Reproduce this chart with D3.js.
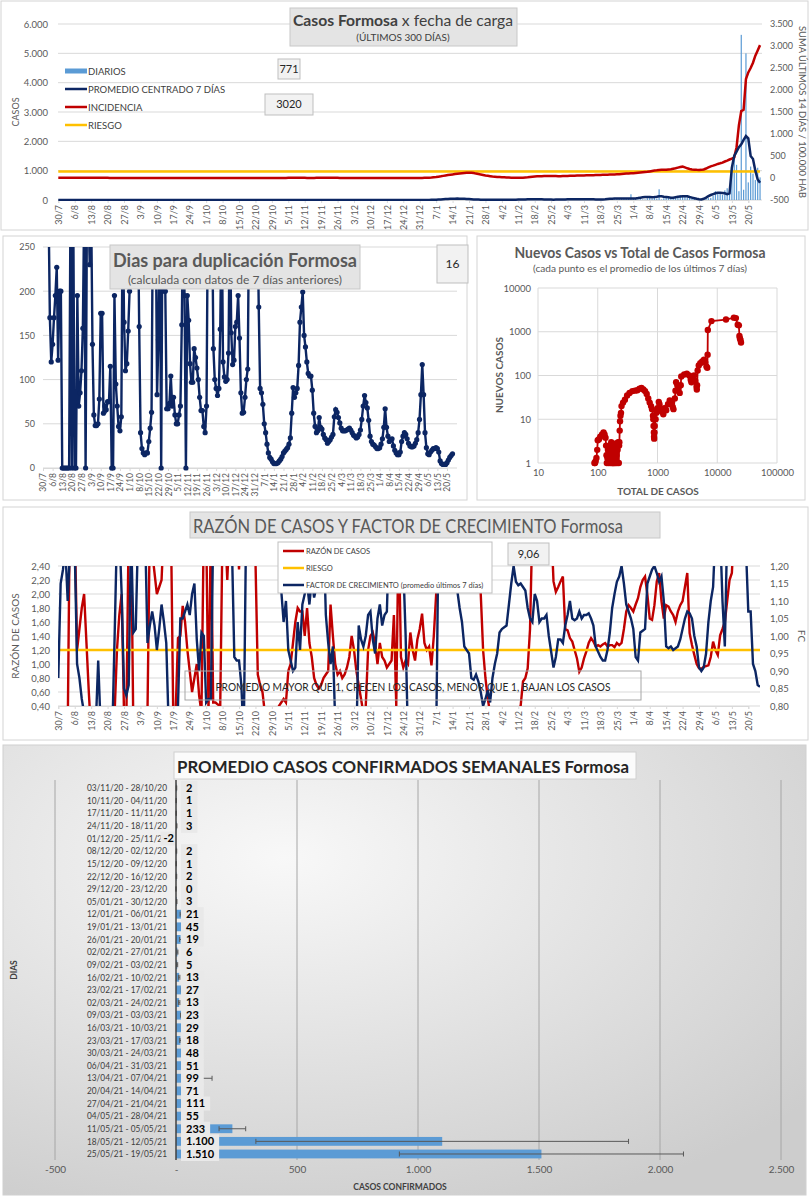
<!DOCTYPE html>
<html>
<head>
<meta charset="utf-8">
<script src="https://cdn.jsdelivr.net/npm/d3@7"></script>
<style>
body { margin: 0; background: #fff; }
svg { display: block; }
</style>
</head>
<body>
<script>
// etiquetas semanales del eje x (cada 7 dias desde el 30/7)
const fechas = ["30/7","6/8","13/8","20/8","27/8","3/9","10/9","17/9","24/9","1/10","8/10","15/10","22/10","29/10",
  "5/11","12/11","19/11","26/11","3/12","10/12","17/12","24/12","31/12","7/1","14/1","21/1","28/1","4/2","11/2",
  "18/2","25/2","4/3","11/3","18/3","25/3","1/4","8/4","15/4","22/4","29/4","6/5","13/5","20/5"];

// casos diarios por fecha de carga (300 dias)
const diarios = [
  0,1,0,0,2,3,5,4,1,0, 3,2,0,0,1,0,0,0,1,0, 0,1,0,0,2,0,0,1,0,0, 1,0,2,0,0,1,0,0,0,1,
  0,0,2,1,0,0,0,3,0,1, 0,0,0,1,0,2,0,0,1,0, 0,0,1,0,0,0,2,0,0,0, 1,0,0,0,0,1,0,0,3,1,
  0,0,1,2,0,0,0,1,0,0, 2,3,1,2,4,1,2,0,1,2, 1,0,1,1,2,0,1,1,0,2, 3,5,2,3,4,1,3,0,0,1,
  0,0,0,0,2,3,1,2,3,4, 1,0,2,1,0,0,2,1,3,2, 2,1,4,3,2,0,1,0,0,0, 0,0,0,1,2,3,4,5,3,3,
  8,12,15,20,25,30,37,40,48,55, 45,50,40,37,30,25,20,18,15,12, 13,10,8,6,5,4,5,4,3,4,
  6,5,7,4,6,8,10,12,15,14, 16,16,20,25,30,35,28,26,25,18, 15,12,10,14,11,11,15,20,25,22,
  28,26,25,30,35,25,28,32,27,26, 20,15,18,16,22,17,18,30,40,55, 60,50,45,56,195,40,35,20,30,20,
  17,60,70,50,80,50,365,18,60,75, 80,70,65,75,72,170,150,120,90,100, 80,67,50,40,45,60,55,65,70,150,
  300,200,250,180,330,400,300,1100,1500,1200, 300,5630,350,5000,600,1140,900,680,1100,771];

// promedio centrado 7 dias
const promedio7 = [
  2,2,2,2,2,3,3,3,2,2, 2,1,1,1,1,1,0,0,0,0, 0,0,0,1,1,1,1,1,1,1, 1,1,1,1,0,0,0,0,0,0,
  0,1,1,1,1,1,1,1,0,0, 0,0,0,0,1,1,1,1,0,0, 0,0,0,0,0,0,0,0,0,0, 0,0,0,0,0,0,0,1,1,1,
  1,1,1,1,1,0,0,0,0,0, 1,1,2,2,2,2,2,2,1,1, 1,1,1,1,1,1,1,1,1,1, 2,2,3,3,3,2,2,2,1,1,
  0,0,0,0,1,1,2,2,2,2, 2,2,1,1,1,1,1,2,2,2, 2,2,2,1,1,1,0,0,0,0, 0,0,1,1,2,2,3,3,4,6,
  9,12,16,20,25,30,35,40,44,46, 47,46,44,40,35,30,25,20,16,13, 10,8,7,6,5,5,5,5,5,5,
  5,6,7,8,10,12,14,16,18,21, 24,27,28,28,27,25,22,19,16,14, 13,12,13,14,16,18,20,22,23,24,
  25,26,27,28,29,28,26,24,22,20, 19,18,20,25,32,40,45,48,50,51, 50,48,50,52,50,51,55,65,80,95,
  100,105,100,95,100,110,130,130,110,100, 90,80,80,95,110,120,130,130,125,100, 80,60,40,25,20,40,80,130,170,200,
  230,250,250,240,230,200,230,1100,1500,1650, 1800,1900,2050,2180,2100,1500,1400,1000,700,590];

// incidencia: suma ultimos 14 dias / 100.000 hab
const incidencia = [
  5,5,5,4,4,5,6,6,7,7, 7,7,6,6,5,5,4,4,3,3, 3,3,2,2,2,2,2,2,2,2, 2,2,2,2,2,2,1,1,1,1,
  1,1,1,1,1,2,2,2,2,2, 2,1,1,1,1,1,1,1,1,1, 1,1,1,1,1,1,1,1,1,1, 1,1,1,1,1,1,1,1,1,1,
  1,1,1,1,1,1,1,1,1,1, 1,1,2,2,2,2,2,2,3,3, 3,3,3,3,3,3,2,2,2,2, 3,3,3,4,4,4,4,4,3,3,
  2,2,2,2,2,2,2,2,2,2, 2,2,2,2,2,2,2,2,2,2, 2,2,2,2,1,1,1,1,1,1, 1,1,1,1,2,2,3,4,6,10,
  16,22,30,38,48,58,68,75,82,90, 98,104,110,115,118,120,118,112,100,90, 80,70,58,50,42,35,30,25,22,18,
  15,12,10,8,7,6,5,5,6,10, 15,22,30,35,38,40,42,44,45,46, 46,45,44,42,42,44,46,48,50,50,
  52,54,55,57,58,60,60,62,64,66, 68,70,72,74,76,78,80,82,84,86, 90,95,100,104,107,110,115,120,125,130,
  135,140,150,160,170,175,182,185,188,190, 195,200,210,220,235,250,258,240,220,205, 195,190,185,182,185,195,215,240,265,280,
  300,320,334,350,375,395,420,440,470,700, 1200,1520,1550,2250,2400,2500,2620,2780,2900,3020];
const riesgoIncidencia = 150;

// dias para duplicacion (null = sin dato)
const duplicacion = [
  null,null,null,null,300,170,120,140,170,195, 227,122,200,200,0,0,0,0,0,0, 300,0,300,0,0,195,70,85,110,158,
  300,0,300,300,230,300,140,60,48,48, 50,78,175,175,62,70,66,75,75,115, 0,0,195,95,70,47,42,58,300,165,
  110,118,155,200,300,300,300,300,300,300, 160,40,22,17,15,17,17,30,45,63, 300,300,300,83,145,300,0,300,200,200,
  67,67,73,104,70,80,60,50,50,60, 70,162,300,195,0,195,167,118,97,97, 135,125,113,100,80,65,65,47,40,70,
  300,300,300,300,135,100,90,82,90,157, 300,120,103,98,100,130,300,153,117,122, 160,165,195,147,85,62,63,80,100,112,
  300,300,300,300,300,300,300,182,90,85, 72,50,40,27,17,12,10,7,5,5, 5,6,8,10,13,17,19,21,23,27,
  34,62,91,80,85,90,116,165,182,199, 150,137,120,107,104,104,88,62,47,40, 42,57,46,44,38,34,32,28,30,32,
  35,38,58,66,63,57,51,45,42,42, 42,43,44,45,43,40,37,36,34,35, 38,43,55,70,82,74,68,54,36,30,
  27,26,24,22,22,23,27,33,46,67, 46,36,30,32,33,25,20,17,15,15, 18,30,36,40,38,33,28,25,24,24,
  25,28,32,40,55,83,117,83,40,23, 16,15,18,20,22,22,23,22,18,8, 5,4,4,4,6,9,12,14,16,null];

// nuevos casos vs total (promedio 7 dias)
const totalCasos = [88,90,92,95,98,100,105,110,118,125,130,135,138,140,142,145,148,150,152,155,158,160,162,165,168,170,172,175,178,180,
  183,185,188,190,195,198,200,205,210,215,220,225,228,230,233,236,240,245,250,265,285,310,340,380,420,460,500,540,580,620,
  660,700,740,780,810,840,850,860,870,875,880,890,900,930,960,1000,1050,1080,1120,1180,1250,1300,1400,1500,1600,1700,1800,1850,1950,2000,
  2050,2150,2250,2350,2450,2500,2800,3100,3400,3600,3700,3900,4100,4300,4500,4550,4600,4700,4900,5200,5600,6000,6300,6600,6800,6900,6950,8000,14000,19000,
  20500,22000,23000,23500,24000,24500,25000];
const nuevosCasos = [1,1,1.1,1.3,2,3.3,3.5,4,4.5,5,4.5,3.8,2.5,1.5,1,1.3,2,1.5,1,1.7,2.5,1.2,1,2,3,1.5,1,2.2,1,1.8,
  1,2.5,1.2,1,2,1,2.8,1.5,1,2,3,1,2.5,3,5.5,9,12,14,20,24,28,35,40,44,45,46,50,52,48,44,
  38,30,24,20,17,12,10,7,5,4,3.6,5,7,10,14,18,25,22,17,15,13,18,16,22,27,25,19,17,30,45,
  70,60,50,40,60,95,105,110,100,80,70,90,100,75,55,48,60,130,170,190,210,230,200,160,150,300,1100,1750,1900,2100,
  2050,1450,1400,800,700,650,570];

// razon de casos (eje izq.) y factor de crecimiento (eje der.)
const razonCasos = [
  0,0,0,0,0,3.5,4,3,1.2,1.5, 1.8,2.0,1.3,0.6,0,0,0,0,0,0, 0,0,0,0,0.3,1.2,1.7,2.0,0.3,0.2, 3,3,0,0,0,0,0,0,0.3,3,
  2.6,2.3,2.0,2.1,2.2,3,3,3,3,0.2, 0.3,1.37,1.4,1.83,1.6,1.2,0.9,0.6,0.8,1.0, 0.55,0.3,3,3,0.3,3,0.45,0.45,0.42,0.4,
  3,3,2.2,3,3,3,3,2.35,3,3, 3,3,3,3,2.5,0.85,0.7,0.6,0.3,0.2, 0.2,0.2,0.2,0.3,0.4,0.45,0.5,0.45,0.9,1.0,
  1.3,1.6,1.8,1.75,1.75,1.4,1.8,1.3,1.1,0.8, 0.7,0.65,0.7,0.8,0.85,0.9,1.85,1.4,1.0,0.85, 0.9,0.8,0.85,0.95,1.1,1.4,1.2,0.9,0.7,0.5,
  0.3,0.4,1.2,1.4,1.45,1.3,1.0,1.3,1.1,1.05, 0.95,1.0,1.05,1.7,0.4,3,1.1,0.95,1.05,1.0, 1.45,1.2,1.05,1.35,1.5,1.72,1.3,1.2,1.25,0.98,
  1.4,2.0,3,3,3,3,3,3,3,3, 3,3,3,3,3,3,3,3,3,3, 2.0,1.2,0.8,0.5,0.3,0.2,0.2,0.2,0.2,0.2,
  0.2,0.2,0.2,0.2,0.2,0.2,0.2,0.4,0.75,0.8, 0.94,1.5,3,3,3,3,3,3,3,3, 3,2.18,2.03,2.1,2.18,2.25,1.5,1.48,1.37,1.32,
  1.2,1.08,0.89,0.95,1.08,1.18,1.3,1.37,1.32,1.25, 1.27,1.25,1.28,1.3,1.25,1.27,1.27,1.24,1.3,1.27, 1.3,1.5,1.75,1.84,1.8,1.75,1.85,1.94,2.1,2.2,
  2.25,1.99,1.65,1.63,1.84,2.18,2.3,1.9,1.65,1.84, 1.82,1.75,1.7,1.6,1.75,1.84,1.9,2.1,2.3,1.44, 1.27,1.13,1.0,0.94,0.93,0.96,0.97,0.98,1.1,1.32,
  1.2,1.13,1.41,1.5,1.6,1.9,2.2,2.3,3,3.5, 4,4.5,5,5.5,6,7,7.5,8,8.5,9.06];
const factorCrec = [
  0.88,1.15,1.19,1.25,1.1,1.25,1.3,1.25,0.92,0.88, 0.82,0.78,0.75,0.7,0.7,0.7,0.75,0.93,0.75,0.7, 0.7,0.7,0.7,0.72,1.0,1.3,1.3,1.12,0.85,0.83,
  0.86,1.3,1.01,1.02,1.3,1.3,1.3,1.3,0.98,1.03, 1.07,1.03,0.96,1.02,1.09,1.04,0.98,0.75,0.7,0.7, 0.72,0.8,1.05,1.05,1.07,1.09,1.06,1.12,1.15,0.99,
  0.9,1.01,1.0,0.81,0.82,0.82,1.3,1.3,1.3,1.3, 1.3,1.3,1.3,1.3,1.25,0.94,0.93,0.93,0.86,0.7, 1.3,1.3,1.3,1.3,1.3,1.3,1.3,1.3,1.3,1.3,
  1.3,1.3,1.3,1.3,1.25,1.13,1.04,1.1,0.96,0.93, 0.9,0.91,1.04,0.96,1.09,1.12,1.15,1.09,1.16,1.11, 1.14,1.18,1.3,1.3,1.06,0.98,0.92,0.97,0.75,0.7,
  0.7,0.7,0.7,0.7,0.7,0.7,0.7,0.7,1.03,0.99, 0.97,1.0,1.06,1.07,0.99,0.95,1.05,1.09,1.03,1.06, 1.07,1.3,1.3,1.3,1.3,1.3,1.3,1.2,1.0,0.7,
  0.7,0.7,0.7,0.7,0.7,0.7,0.7,0.7,0.7,0.7, 0.7,0.7,1.3,1.3,1.3,1.3,1.3,1.3,1.3,1.25, 1.13,1.08,1.04,0.97,0.96,0.95,0.88,0.875,0.89,0.87,
  0.84,0.8,0.82,0.845,0.81,0.88,0.92,0.95,1.01,1.02, 1.025,1.03,1.09,1.15,1.2,1.155,1.145,1.15,1.14,1.13, 1.08,1.05,1.04,1.12,1.1,1.04,1.05,1.05,1.06,1.0,
  0.955,0.91,0.94,0.99,0.99,0.98,1.03,1.06,1.1,1.05, 1.045,1.05,1.07,1.05,1.06,1.06,1.065,1.05,1.03,0.97, 0.955,0.94,0.93,0.93,0.96,1.01,1.08,1.12,1.155,1.17,
  1.2,1.15,1.09,1.07,1.05,1.02,0.94,0.93,1.01,1.015, 1.02,1.15,1.17,1.19,1.2,1.18,1.155,1.17,1.1,0.97, 0.965,0.97,0.96,0.965,0.97,0.99,1.02,1.05,1.07,1.065,
  1.05,1.0,0.97,0.91,0.9,0.91,0.95,1.04,1.1,1.14, 1.3,1.3,1.3,1.1,0.97,1.3,1.3,1.3,1.3,1.3, 1.3,1.3,1.3,1.25,1.07,1.07,0.92,0.9,0.86,0.855];
const riesgoRazon = 1.2;

// promedio semanal de casos confirmados
const semanas = ["03/11/20 - 28/10/20","10/11/20 - 04/11/20","17/11/20 - 11/11/20","24/11/20 - 18/11/20","01/12/20 - 25/11/20",
  "08/12/20 - 02/12/20","15/12/20 - 09/12/20","22/12/20 - 16/12/20","29/12/20 - 23/12/20","05/01/21 - 30/12/20",
  "12/01/21 - 06/01/21","19/01/21 - 13/01/21","26/01/21 - 20/01/21","02/02/21 - 27/01/21","09/02/21 - 03/02/21",
  "16/02/21 - 10/02/21","23/02/21 - 17/02/21","02/03/21 - 24/02/21","09/03/21 - 03/03/21","16/03/21 - 10/03/21",
  "23/03/21 - 17/03/21","30/03/21 - 24/03/21","06/04/21 - 31/03/21","13/04/21 - 07/04/21","20/04/21 - 14/04/21",
  "27/04/21 - 21/04/21","04/05/21 - 28/04/21","11/05/21 - 05/05/21","18/05/21 - 12/05/21","25/05/21 - 19/05/21"];
const promSemanal = [2,1,1,3,-2,2,1,2,0,3,21,45,19,6,5,13,27,13,23,29,18,48,51,99,71,111,55,233,1100,1510];
const errSemanal = [1,1,1,1,1,1,1,1,0,1,4,6,4,2,2,3,5,3,4,5,3,6,6,50,8,5,6,55,770,587];

const FONT = "Lato, 'DejaVu Sans', sans-serif";
const NAVY = "#0c2663", RED = "#c00000", YEL = "#ffc000", BLUE = "#5b9bd5";
const GRID = "#d9d9d9", TXT = "#595959";

const es = d3.formatLocale({decimal: ",", thousands: ".", grouping: [3], currency: ["$", ""], minus: "-"});
const fMil = es.format(",");
const f2 = es.format(",.2f");

const svg = d3.select("body").append("svg")
  .attr("width", 812).attr("height", 1200)
  .style("font-family", FONT);
const defs = svg.append("defs");

function marco(x, y, w, h) {
  svg.append("rect").attr("x", x).attr("y", y).attr("width", w).attr("height", h)
    .attr("fill", "#fff").attr("stroke", "#d4d4d4");
}
function recorte(id, x, y, w, h) {
  defs.append("clipPath").attr("id", id).append("rect")
    .attr("x", x).attr("y", y).attr("width", w).attr("height", h);
}
function caja(x, y, w, h, txt, size, fill) {
  svg.append("rect").attr("x", x).attr("y", y).attr("width", w).attr("height", h)
    .attr("fill", fill || "#f2f2f2").attr("stroke", "#bfbfbf");
  if (txt) svg.append("text").attr("x", x + w / 2).attr("y", y + h / 2).attr("dy", "0.35em")
    .attr("text-anchor", "middle").attr("font-size", size).attr("fill", "#262626").text(txt);
}
function texto(x, y, t, size, opts) {
  const o = opts || {};
  const el = svg.append("text").attr("x", x).attr("y", y).attr("font-size", size)
    .attr("fill", o.fill || TXT).attr("text-anchor", o.anchor || "start")
    .attr("font-weight", o.bold ? "bold" : null).text(t);
  if (o.rot) el.attr("transform", `rotate(${o.rot},${x},${y})`);
  if (o.len) el.attr("textLength", o.len).attr("lengthAdjust", "spacingAndGlyphs");
  return el;
}
function ejeFechas(scale, y, size) {
  const g = svg.append("g").attr("transform", `translate(0,${y})`)
    .call(d3.axisBottom(scale).tickValues(fechas.map((f, i) => i * 7))
      .tickFormat((d, i) => fechas[i]).tickSize(3));
  g.attr("font-family", FONT).attr("font-size", size);
  g.select(".domain").attr("stroke", GRID);
  g.selectAll(".tick line").attr("stroke", GRID);
  g.selectAll("text").attr("transform", "rotate(-90)").attr("text-anchor", "end")
    .attr("x", -5).attr("y", 0).attr("dy", "0.35em").attr("fill", TXT);
}
function ejeY(scale, x, vals, fmt, side, size) {
  const ax = side === "left" ? d3.axisLeft(scale) : d3.axisRight(scale);
  const g = svg.append("g").attr("transform", `translate(${x},0)`)
    .call(ax.tickValues(vals).tickFormat(fmt).tickSize(0).tickPadding(0));
  g.attr("font-family", FONT).attr("font-size", size);
  g.select(".domain").remove();
  g.selectAll("text").attr("fill", TXT);
}
function rejilla(scale, vals, x0, x1) {
  svg.append("g").selectAll("line").data(vals).join("line")
    .attr("x1", x0).attr("x2", x1).attr("y1", d => scale(d)).attr("y2", d => scale(d))
    .attr("stroke", GRID).attr("stroke-width", 1);
}

// ---------- panel 1: casos x fecha de carga ----------
marco(1, 1, 807, 229);
const x1 = d3.scaleLinear().domain([0, 294]).range([58.3, 748.3]);
const y1 = d3.scaleLinear().domain([0, 6000]).range([200, 24]);
const y1r = d3.scaleLinear().domain([-500, 3500]).range([200, 24]);
recorte("c1", 57, 20, 706, 181);
rejilla(y1, d3.range(0, 6001, 1000), 58, 762);
ejeY(y1, 48, d3.range(0, 6001, 1000), fMil, "left", 9.5);
ejeY(y1r, 770, d3.range(-500, 3501, 500), fMil, "right", 9);
texto(19, 112, "CASOS", 9, {anchor: "middle", rot: -90});
texto(799, 112, "SUMA  ÚLTIMOS 14 DÍAS / 100.000 HAB", 9.5, {anchor: "middle", rot: 90, len: 172});
ejeFechas(x1, 200, 9);

const p1 = svg.append("g").attr("clip-path", "url(#c1)");
p1.selectAll("rect").data(diarios).join("rect")
  .attr("x", (d, i) => x1(i) - 0.6).attr("width", 1.2)
  .attr("y", d => y1(Math.max(d, 0))).attr("height", d => y1(0) - y1(Math.max(d, 0)))
  .attr("fill", BLUE);
p1.append("path").datum([0, 299])
  .attr("d", d3.line().x(d => x1(d)).y(() => y1r(riesgoIncidencia)))
  .attr("stroke", YEL).attr("stroke-width", 2.5).attr("fill", "none");
p1.append("path").datum(incidencia)
  .attr("d", d3.line().x((d, i) => x1(i)).y(d => y1r(d)))
  .attr("stroke", RED).attr("stroke-width", 2.5).attr("fill", "none");
p1.append("path").datum(promedio7)
  .attr("d", d3.line().x((d, i) => x1(i)).y(d => y1(d)))
  .attr("stroke", NAVY).attr("stroke-width", 2.5).attr("fill", "none");

// titulo
svg.append("rect").attr("x", 290).attr("y", 8).attr("width", 227).attr("height", 38)
  .attr("fill", "#e4e4e4").attr("stroke", "#c8c8c8");
const t1 = svg.append("text").attr("x", 403).attr("y", 26).attr("text-anchor", "middle")
  .attr("font-size", 16).attr("fill", "#404040").attr("textLength", 220).attr("lengthAdjust", "spacingAndGlyphs");
t1.append("tspan").attr("font-weight", "bold").text("Casos  Formosa");
t1.append("tspan").text(" x fecha de carga");
texto(403, 41, "(ÚLTIMOS 300 DÍAS)", 10, {anchor: "middle", fill: "#404040"});

// leyenda
const ley1 = [
  {t: "DIARIOS", c: BLUE, w: 5},
  {t: "PROMEDIO CENTRADO 7 DÍAS", c: NAVY, w: 2.5},
  {t: "INCIDENCIA", c: RED, w: 2.5},
  {t: "RIESGO", c: YEL, w: 2.5}
];
ley1.forEach((l, i) => {
  const y = 71 + i * 18;
  svg.append("line").attr("x1", 65).attr("x2", 87).attr("y1", y).attr("y2", y)
    .attr("stroke", l.c).attr("stroke-width", l.w);
  texto(88, y + 3.5, l.t, 9.5, {fill: "#404040"});
});
caja(278, 59, 22, 20, "771", 11);
caja(265, 94, 48, 21, "3020", 11);

// ---------- panel 2: dias para duplicacion ----------
marco(3, 236, 464, 264);
const x2 = d3.scaleLinear().domain([0, 294]).range([43, 447]);
const y2 = d3.scaleLinear().domain([0, 250]).range([468, 247]);
recorte("c2", 38, 247, 422, 226);
rejilla(y2, d3.range(0, 251, 50), 43, 457);
ejeY(y2, 35, d3.range(0, 251, 50), d3.format("d"), "left", 9);
ejeFechas(x2, 468, 8.5);
const p2 = svg.append("g").attr("clip-path", "url(#c2)");
p2.append("path").datum(duplicacion)
  .attr("d", d3.line().defined(d => d !== null).x((d, i) => x2(i)).y(d => y2(d)))
  .attr("stroke", NAVY).attr("stroke-width", 2.4).attr("fill", "none");
p2.selectAll("circle").data(duplicacion.map((v, i) => [i, v]).filter(d => d[1] !== null && d[1] <= 250))
  .join("circle").attr("cx", d => x2(d[0])).attr("cy", d => y2(d[1])).attr("r", 2.6).attr("fill", NAVY);
svg.append("rect").attr("x", 110).attr("y", 245).attr("width", 250).attr("height", 44)
  .attr("fill", "#e4e4e4").attr("stroke", "#c8c8c8");
texto(235, 267, "Dias para duplicación Formosa", 18.5, {anchor: "middle", bold: true, len: 244});
texto(235, 284, "(calculada con datos de 7 días anteriores)", 12, {anchor: "middle", len: 214});
caja(437, 245, 31, 38, "16", 12);

// ---------- panel 3: nuevos vs total ----------
marco(477, 236, 328, 264);
const x3 = d3.scaleLog().domain([10, 100000]).range([538, 777]);
const y3 = d3.scaleLog().domain([1, 10000]).range([463, 288]);
const dec = [1, 10, 100, 1000, 10000], decX = [10, 100, 1000, 10000, 100000];
rejilla(y3, dec, 538, 777);
svg.append("g").selectAll("line").data(decX).join("line")
  .attr("x1", d => x3(d)).attr("x2", d => x3(d)).attr("y1", 288).attr("y2", 463)
  .attr("stroke", GRID);
ejeY(y3, 531, dec, d3.format("d"), "left", 9.5);
const gx3 = svg.append("g").attr("transform", "translate(0,469)")
  .call(d3.axisBottom(x3).tickValues(decX).tickFormat(d3.format("d")).tickSize(0).tickPadding(0));
gx3.attr("font-family", FONT).attr("font-size", 9.5);
gx3.select(".domain").remove();
gx3.selectAll("text").attr("fill", TXT);
texto(640, 258, "Nuevos Casos vs Total de Casos Formosa", 14.5, {anchor: "middle", bold: true, len: 251});
texto(640, 272, "(cada punto es el promedio de los últimos 7 días)", 9.5, {anchor: "middle", len: 214});
texto(503, 375, "NUEVOS  CASOS", 10, {anchor: "middle", bold: true, rot: -90});
texto(658, 495, "TOTAL DE CASOS", 10, {anchor: "middle", bold: true});
const pts = totalCasos.map((t, i) => [t, nuevosCasos[i]]);
svg.append("path").datum(pts)
  .attr("d", d3.line().x(d => x3(d[0])).y(d => y3(d[1])))
  .attr("stroke", RED).attr("stroke-width", 1.8).attr("fill", "none");
svg.append("g").selectAll("circle").data(pts).join("circle")
  .attr("cx", d => x3(d[0])).attr("cy", d => y3(d[1])).attr("r", 3.2).attr("fill", RED);

// ---------- panel 4: razon de casos y factor de crecimiento ----------
marco(3, 507, 805, 233);
const y4 = d3.scaleLinear().domain([0.4, 2.4]).range([706, 566]);
const y4r = d3.scaleLinear().domain([0.8, 1.2]).range([706, 566]);
recorte("c4", 58, 566, 702, 140);
rejilla(y4, d3.range(4, 25, 2).map(d => d / 10), 58, 760);
ejeY(y4, 50, d3.range(4, 25, 2).map(d => d / 10), f2, "left", 9.5);
ejeY(y4r, 770, d3.range(16, 25, 1).map(d => d / 20), f2, "right", 9.5);
texto(19, 636, "RAZÓN DE CASOS", 10, {anchor: "middle", rot: -90});
texto(798, 636, "FC", 10, {anchor: "middle", rot: 90});
ejeFechas(x1, 706, 9);
const p4 = svg.append("g").attr("clip-path", "url(#c4)");
p4.append("path").datum(razonCasos)
  .attr("d", d3.line().x((d, i) => x1(i)).y(d => y4(d)))
  .attr("stroke", RED).attr("stroke-width", 2.4).attr("fill", "none");
p4.append("path").datum([0, 299])
  .attr("d", d3.line().x(d => x1(d)).y(() => y4(riesgoRazon)))
  .attr("stroke", YEL).attr("stroke-width", 2.5).attr("fill", "none");
p4.append("path").datum(factorCrec)
  .attr("d", d3.line().x((d, i) => x1(i)).y(d => y4r(d)))
  .attr("stroke", NAVY).attr("stroke-width", 2.4).attr("fill", "none");
svg.append("rect").attr("x", 185).attr("y", 671).attr("width", 456).attr("height", 29)
  .attr("fill", "none").attr("stroke", "#a6a6a6");
texto(413, 691, "PROMEDIO MAYOR QUE 1, CRECEN LOS CASOS, MENOR QUE 1, BAJAN LOS CASOS", 11.5,
  {anchor: "middle", fill: "#262626", len: 395});
svg.append("rect").attr("x", 190).attr("y", 512).attr("width", 470).attr("height", 26)
  .attr("fill", "#e4e4e4").attr("stroke", "#c8c8c8");
texto(408, 533, "RAZÓN DE CASOS Y FACTOR DE CRECIMIENTO Formosa", 20, {anchor: "middle", len: 430});
svg.append("rect").attr("x", 278).attr("y", 542).attr("width", 214).attr("height", 51)
  .attr("fill", "#fff").attr("stroke", "#bfbfbf");
const ley4 = [
  {t: "RAZÓN DE CASOS", c: RED},
  {t: "RIESGO", c: YEL},
  {t: "FACTOR DE CRECIMIENTO (promedio últimos 7 días)", c: NAVY}
];
ley4.forEach((l, i) => {
  const y = 551 + i * 17;
  svg.append("line").attr("x1", 283).attr("x2", 304).attr("y1", y).attr("y2", y)
    .attr("stroke", l.c).attr("stroke-width", 2.5);
  texto(306, y + 3, l.t, 7.5, {fill: "#404040"});
});
caja(508, 543, 41, 22, "9,06", 11);

// ---------- panel 5: promedio semanal ----------
const grad = defs.append("radialGradient").attr("id", "fondo")
  .attr("cx", "35%").attr("cy", "25%").attr("r", "85%");
grad.append("stop").attr("offset", "0%").attr("stop-color", "#f8f8f8");
grad.append("stop").attr("offset", "100%").attr("stop-color", "#cdcdcd");
svg.append("rect").attr("x", 3).attr("y", 745).attr("width", 803).attr("height", 450)
  .attr("fill", "url(#fondo)").attr("stroke", "#d0d0d0");
const x5 = d3.scaleLinear().domain([-500, 2500]).range([55, 781]);
const y5 = d3.scaleBand().domain(semanas).range([781.7, 1160.3]).paddingInner(0.3).paddingOuter(0.15);
svg.append("g").selectAll("line").data([-500, 500, 1000, 1500, 2000, 2500]).join("line")
  .attr("x1", d => x5(d)).attr("x2", d => x5(d)).attr("y1", 780).attr("y2", 1160)
  .attr("stroke", "#a6a6a6");
svg.append("rect").attr("x", 174).attr("y", 752).attr("width", 462).attr("height", 27)
  .attr("fill", "#fbfbfb").attr("stroke", "#d0d0d0");
texto(403, 773, "PROMEDIO CASOS CONFIRMADOS SEMANALES Formosa", 17, {anchor: "middle", bold: true, fill: "#262626", len: 452});
const gy5 = svg.append("g").attr("transform", "translate(167,0)")
  .call(d3.axisLeft(y5).tickSize(0).tickPadding(0));
gy5.attr("font-family", FONT).attr("font-size", 10);
gy5.select(".domain").remove();
gy5.selectAll("text").attr("fill", "#404040").attr("textLength", 80).attr("lengthAdjust", "spacingAndGlyphs");
const gx5 = svg.append("g").attr("transform", "translate(0,1166)")
  .call(d3.axisBottom(x5).tickValues([-500, 0, 500, 1000, 1500, 2000, 2500])
    .tickFormat(d => d === 0 ? "-" : fMil(d)).tickSize(0).tickPadding(0));
gx5.attr("font-family", FONT).attr("font-size", 10);
gx5.select(".domain").remove();
gx5.selectAll("text").attr("fill", TXT);
texto(400, 1190, "CASOS CONFIRMADOS", 8.5, {anchor: "middle", bold: true, fill: "#404040"});
texto(17, 970, "DIAS", 8.5, {anchor: "middle", bold: true, rot: -90, fill: "#404040"});

const b5 = svg.append("g");
b5.selectAll("rect").data(promSemanal).join("rect")
  .attr("x", d => x5(Math.min(d, 0))).attr("width", d => Math.abs(x5(d) - x5(0)))
  .attr("y", (d, i) => y5(semanas[i])).attr("height", y5.bandwidth())
  .attr("fill", BLUE);
const err = svg.append("g").attr("stroke", "#595959").attr("stroke-width", 1);
promSemanal.forEach((v, i) => {
  const cy = y5(semanas[i]) + y5.bandwidth() / 2;
  const a = x5(v - errSemanal[i]), b = x5(v + errSemanal[i]);
  err.append("line").attr("x1", a).attr("x2", b).attr("y1", cy).attr("y2", cy);
  [a, b].forEach(xx => err.append("line").attr("x1", xx).attr("x2", xx).attr("y1", cy - 2.5).attr("y2", cy + 2.5));
});
const lab = svg.append("g");
promSemanal.forEach((v, i) => {
  const cy = y5(semanas[i]) + y5.bandwidth() / 2;
  const neg = v < 0;
  const t = lab.append("text").attr("x", neg ? x5(0) - 2 : x5(0) + 10).attr("y", cy).attr("dy", "0.35em")
    .attr("text-anchor", neg ? "end" : "start").attr("font-size", 11).attr("font-weight", "bold")
    .attr("fill", "#000").text(fMil(v));
  const w = t.node().getComputedTextLength();
  const bx = neg ? x5(0) - 5 - w : x5(0) + 5;
  lab.insert("rect", "text").attr("x", bx).attr("y", cy - 7).attr("width", w + (neg ? 6 : 10)).attr("height", 14)
    .attr("fill", "#e9e9e9");
});
svg.append("line").attr("x1", x5(0)).attr("x2", x5(0)).attr("y1", 780).attr("y2", 1160)
  .attr("stroke", "#404040").attr("stroke-width", 1.5);
</script>
</body>
</html>
